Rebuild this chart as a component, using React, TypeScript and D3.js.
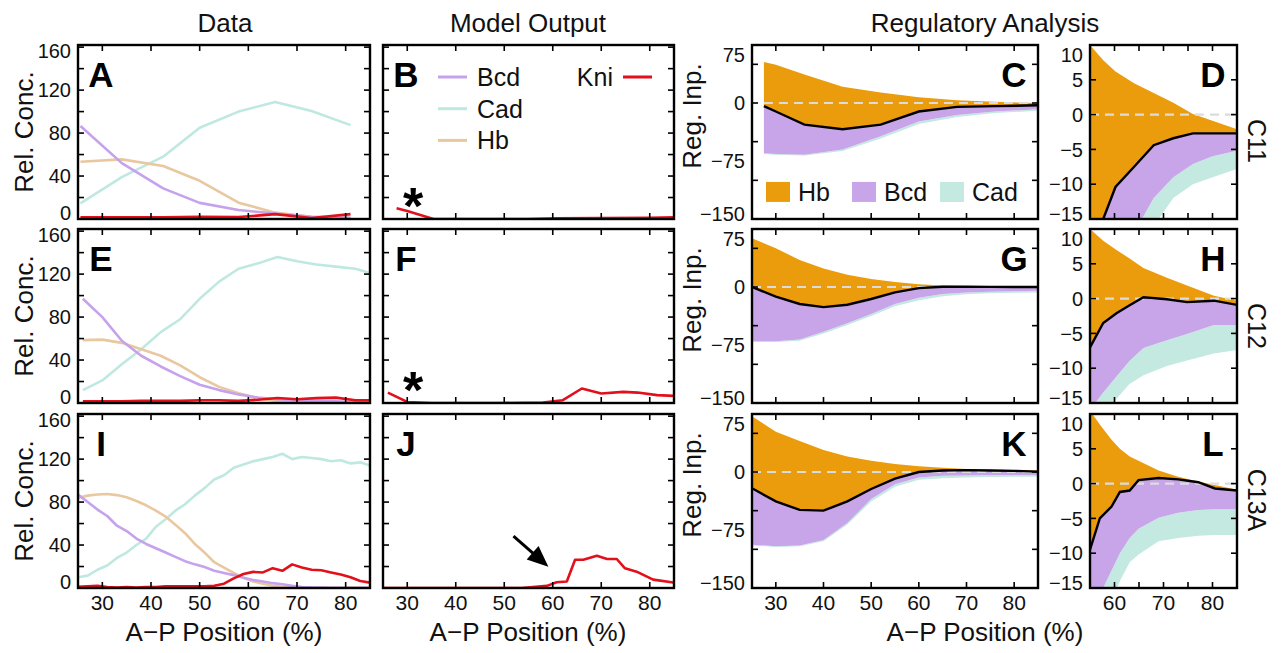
import * as d3 from "d3";
import React from "react";

const FONT = "'Liberation Sans', Arial, Helvetica, sans-serif";

const BCD_LINE = "#c6a2ec";
const CAD_LINE = "#bfe8e0";
const HB_LINE = "#e9c8a0";
const KNI_LINE = "#e2101a";
const HB_FILL = "#eb9c0c";
const BCD_FILL = "#c8a5e8";
const CAD_FILL = "#c3e9e1";

// ---------- Data (C11) ----------
const POS_A = [25.5, 34, 42.5, 50, 58, 65.5, 73, 81];
const BCD_A = [86.5, 52, 28.5, 15, 8.4, 5, 2, 1.2];
const CAD_A = [14.6, 39, 58, 85, 100, 109, 100.5, 87.4];
const HB_A = [53.3, 55.5, 49.3, 35.6, 15.2, 5.9, 2, 1];
const KNI_A = [1.5, 1.5, 1.5, 2, 1.8, 4.5, 1, 4.5];

// ---------- Data (C12) ----------
const POS_E = [26, 30, 34, 38, 42, 46, 50, 54, 58, 62, 66, 70, 74, 78, 82, 85];
const BCD_E = [97, 80, 58, 44, 34, 25, 17, 12, 8, 5, 3.5, 2.5, 2, 1.5, 1, 1];
const CAD_E = [12, 21, 36, 50, 66, 78, 97, 113, 125, 130, 136, 132, 129, 127, 125, 121];
const HB_E = [58.5, 59, 56, 50, 44, 35, 24, 15, 9, 4.5, 2, 1, 0.8, 0.5, 0.5, 0.5];
const KNI_E = [1.5, 1.5, 1.5, 2, 2, 2, 2.5, 2.5, 2, 3, 4.7, 3.5, 4.5, 5, 2.5, 2.5];

// ---------- Data (C13A) ----------
const POS_I = [25, 27, 29, 31, 33, 35, 37, 39, 41, 43, 45, 47, 49, 51, 53, 55, 57, 59, 61, 63, 65, 67, 69, 71, 73, 75, 77, 79, 81, 83, 85];
const BCD_I = [87, 80, 73, 67, 58, 53, 46, 41, 37, 33, 29, 25, 22, 19.5, 16, 14, 12, 9.5, 7.5, 6, 4.5, 3.5, 2, 1, 0.6, 0.4, 0.3, 0.2, 0.2, 0.1, 0.1];
const CAD_I = [10, 11.5, 17, 21, 28, 33, 40, 46, 57, 64, 72, 78, 86, 93, 101, 105, 112, 115, 118, 120, 122, 125, 120, 122, 121, 120, 118, 119, 116, 117, 114];
const HB_I = [84, 86, 87, 87.5, 86.5, 84.5, 81, 77, 72, 66.5, 59, 51, 41, 33, 24, 19, 14, 9.5, 6, 4, 2, 1.2, 0.8, 0.5, 0.4, 0.3, 0.3, 0.2, 0.2, 0.2, 0.2];
const KNI_I = [1, 1.5, 2, 1, 0.5, 1, 0.5, 1, 1, 1.5, 1.5, 1.5, 1.5, 1.5, 2, 4, 9, 13, 15, 14.5, 18.5, 16, 22, 19, 17, 16.5, 14.5, 12.5, 10, 6.5, 5];

// ---------- Model output (Kni) ----------
const POS_B = [27.8, 30, 35.4, 45, 55, 61, 70, 80, 85];
const KNI_B = [10, 7.5, 0, 0, 0, 0.6, 0.9, 1.2, 1.5];
const POS_F = [26, 30, 35, 50, 58, 62, 66, 70, 74.5, 77.5, 81.5, 85];
const KNI_F = [9.7, 1, 0, 0, 0.5, 2.5, 13.5, 8.8, 10.4, 9.7, 7.3, 6.6];
const POS_J = [25, 53.6, 58.8, 60.8, 62.9, 64.6, 66.3, 69.1, 71.2, 73.2, 74.9, 77.3, 80.7, 84.5, 85];
const KNI_J = [0, 0, 2, 5.3, 6, 26.3, 26.3, 30, 27, 27, 18.3, 15.2, 7.8, 5.3, 5];

// ---------- Regulatory analysis, full range ----------
const POS_C = [27.5, 30, 36, 44, 52, 60, 68, 76, 85];
const TOP_C = [53, 49.5, 37, 21, 13.5, 7.5, 3.5, 1.5, 0];
const NET_C = [-4, -11, -28, -34, -28, -11, -5, -4, -3];
const BCD_C = [-65, -66, -67, -60, -43, -24, -15.5, -11, -8];
const CAD_C = [-66, -67, -68, -62, -46, -27, -18, -13, -10];

const POS_G = [25, 30, 35, 40, 45, 50, 55, 60, 65, 70, 75, 80, 85];
const TOP_G = [63, 50, 35, 24, 16, 10.5, 6.5, 3.5, 2, 1.2, 0.8, 0.5, 0.3];
const NET_G = [0, -12.5, -22, -26, -23, -15.5, -7, -1.5, 0.3, 0.3, 0.2, 0, 0];
const BCD_G = [-70, -70, -68, -58, -47, -35, -22, -14, -9, -7, -6, -5.5, -5];
const CAD_G = [-71, -71, -69.5, -60, -49, -37.5, -25, -17, -12, -9.5, -8, -7.5, -7];

const POS_K = [25, 30, 35, 40, 45, 50, 55, 60, 65, 70, 75, 80, 85];
const TOP_K = [72, 52, 40, 28.5, 20, 14.5, 10.5, 7.5, 5.5, 4, 3, 2.5, 2];
const NET_K = [-21, -38, -49, -50, -38, -22, -8.5, 0, 2, 2.4, 2, 1.5, 0.5];
const BCD_K = [-94, -96, -95, -88, -66, -35, -16, -7, -5, -4.5, -4, -4, -4];
const CAD_K = [-95, -97, -96, -89.5, -68, -38, -19, -10, -8, -7, -6.5, -6, -6];

// ---------- Regulatory analysis, posterior zoom ----------
const POS_D = [55, 57.7, 60.2, 64, 68, 72, 76, 80, 85];
const TOP_D = [10, 7.8, 6.2, 4.5, 3.1, 1.7, 0.1, -0.9, -2.1];
const NET_D = [-20, -15, -10.4, -7.5, -4.4, -3.4, -2.7, -2.7, -2.7];
const BCD_D = [-25, -22, -20, -17, -12, -9, -7.1, -6, -5.2];
const CAD_D = [-30, -27, -25, -21, -16, -12, -10, -9, -7.8];

const POS_H = [55, 57.7, 60.4, 63, 65.9, 70.7, 74.8, 80.3, 85];
const TOP_H = [10, 8.3, 7, 5.8, 4.4, 3, 1.9, 0.4, -0.3];
const NET_H = [-7, -3.5, -2.1, -1, 0.2, -0.1, -0.5, -0.3, -0.9];
const BCD_H = [-16, -13.5, -11.2, -9, -7.1, -6, -5.1, -3.8, -3.8];
const CAD_H = [-22, -18, -14.4, -12.3, -11, -9.7, -8.9, -7.9, -7.4];

const POS_L = [55, 57, 59.4, 61.1, 63.1, 64.9, 69, 73, 77.1, 80.5, 85];
const TOP_L = [10.5, 8.5, 6.3, 5, 3.9, 3.3, 1.9, 1, 0.3, -0.2, -0.9];
const NET_L = [-9.5, -5, -3.3, -1.2, -1, 0.5, 0.8, 0.6, 0.2, -0.7, -1];
const BCD_L = [-20, -16, -12.5, -10, -7.8, -6.5, -4.9, -4.2, -3.8, -3.7, -3.7];
const CAD_L = [-25, -21, -17, -14, -11.3, -10.2, -8.3, -7.8, -7.5, -7.4, -7.4];

// ticks / labels
const CONC_X_TICKS = [30, 40, 50, 60, 70, 80];
const CONC_Y_TICKS = [20, 40, 60, 80, 100, 120, 140, 160];
const CONC_Y_LABELS = [0, 40, 80, 120, 160];
const REG_Y_TICKS = [-100, -50, 0, 50];
const REG_Y_LABELS = [75, 0, -75, -150];
const ZOOM_X_TICKS = [60, 65, 70, 75, 80];
const ZOOM_X_LABELS = [60, 70, 80];
const ZOOM_Y_TICKS = [-10, -5, 0, 5];
const ZOOM_Y_LABELS = [10, 5, 0, -5, -10, -15];
const ROW_NAMES = ["C11", "C12", "C13A"];

// layout
const COLS = [
  { x: 78, w: 292 },
  { x: 383, w: 291 },
  { x: 752, w: 286 },
  { x: 1090, w: 147 },
];
const ROW_TOP = [45, 229, 414];
const ROW_H = 174;

const fmt = (v: number) => (v < 0 ? "\u2212" + Math.abs(v) : String(v));

type Scale = d3.ScaleLinear<number, number>;

function Frame({ xs, ys, xTicks, yTicks }: { xs: Scale; ys: Scale; xTicks: number[]; yTicks: number[] }) {
  const [x0, x1] = xs.range();
  const [yb, yt] = ys.range();
  const len = 6;
  return (
    <g>
      <g stroke="#000" strokeWidth={1.6}>
        {xTicks.map((t) => (
          <g key={"x" + t}>
            <line x1={xs(t)} x2={xs(t)} y1={yb} y2={yb - len} />
            <line x1={xs(t)} x2={xs(t)} y1={yt} y2={yt + len} />
          </g>
        ))}
        {yTicks.map((t) => (
          <g key={"y" + t}>
            <line x1={x0} x2={x0 + len} y1={ys(t)} y2={ys(t)} />
            <line x1={x1} x2={x1 - len} y1={ys(t)} y2={ys(t)} />
          </g>
        ))}
      </g>
      <rect x={x0} y={yt} width={x1 - x0} height={yb - yt} fill="none" stroke="#000" strokeWidth={2.4} />
    </g>
  );
}

function YLabels({ xs, ys, labels, topPad, botPad }: { xs: Scale; ys: Scale; labels: number[]; topPad: number; botPad: number }) {
  const [yb, yt] = ys.range();
  const x0 = xs.range()[0];
  return (
    <g fontFamily={FONT} fontSize={20} textAnchor="end" fill="#111">
      {labels.map((v) => (
        <text key={v} x={x0 - 7} y={Math.min(Math.max(ys(v), yt + topPad), yb - botPad)} dy="0.36em">
          {fmt(v)}
        </text>
      ))}
    </g>
  );
}

function XLabels({ xs, ys, labels }: { xs: Scale; ys: Scale; labels: number[] }) {
  const yb = ys.range()[0];
  return (
    <g fontFamily={FONT} fontSize={21} textAnchor="middle" fill="#111">
      {labels.map((v) => (
        <text key={v} x={xs(v)} y={yb + 22}>
          {v}
        </text>
      ))}
    </g>
  );
}

function Letter({ xs, ys, text, right }: { xs: Scale; ys: Scale; text: string; right?: boolean }) {
  const [x0, x1] = xs.range();
  const yt = ys.range()[1];
  return (
    <text
      x={right ? x1 - 24 : x0 + 23}
      y={yt + 42}
      textAnchor="middle"
      fontFamily={FONT}
      fontWeight="bold"
      fontSize={35}
      fill="#000"
    >
      {text}
    </text>
  );
}

function line(xs: Scale, ys: Scale, pos: number[], vals: number[]) {
  return d3
    .line<number>()
    .x((_, i) => xs(pos[i]))
    .y((d) => ys(d))(vals) as string;
}

function band(xs: Scale, ys: Scale, pos: number[], lo: number[], hi: number[]) {
  return d3
    .area<number>()
    .x((_, i) => xs(pos[i]))
    .y0((_, i) => ys(lo[i]))
    .y1((_, i) => ys(hi[i]))(pos) as string;
}

type ConcRow = { pos: number[]; bcd: number[]; cad: number[]; hb: number[]; kni: number[] };
const DATA_ROWS: ConcRow[] = [
  { pos: POS_A, bcd: BCD_A, cad: CAD_A, hb: HB_A, kni: KNI_A },
  { pos: POS_E, bcd: BCD_E, cad: CAD_E, hb: HB_E, kni: KNI_E },
  { pos: POS_I, bcd: BCD_I, cad: CAD_I, hb: HB_I, kni: KNI_I },
];
const MODEL_ROWS = [
  { pos: POS_B, kni: KNI_B },
  { pos: POS_F, kni: KNI_F },
  { pos: POS_J, kni: KNI_J },
];
type RegRow = { pos: number[]; top: number[]; net: number[]; bcd: number[]; cad: number[] };
const REG_ROWS: RegRow[] = [
  { pos: POS_C, top: TOP_C, net: NET_C, bcd: BCD_C, cad: CAD_C },
  { pos: POS_G, top: TOP_G, net: NET_G, bcd: BCD_G, cad: CAD_G },
  { pos: POS_K, top: TOP_K, net: NET_K, bcd: BCD_K, cad: CAD_K },
];
const ZOOM_ROWS: RegRow[] = [
  { pos: POS_D, top: TOP_D, net: NET_D, bcd: BCD_D, cad: CAD_D },
  { pos: POS_H, top: TOP_H, net: NET_H, bcd: BCD_H, cad: CAD_H },
  { pos: POS_L, top: TOP_L, net: NET_L, bcd: BCD_L, cad: CAD_L },
];
const LETTERS = [
  ["A", "B", "C", "D"],
  ["E", "F", "G", "H"],
  ["I", "J", "K", "L"],
];

function RegFill({ xs, ys, d, id }: { xs: Scale; ys: Scale; d: RegRow; id: string }) {
  const [x0, x1] = xs.range();
  const [yb, yt] = ys.range();
  return (
    <g>
      <clipPath id={id}>
        <rect x={x0} y={yt} width={x1 - x0} height={yb - yt} />
      </clipPath>
      <g clipPath={`url(#${id})`}>
        <path d={band(xs, ys, d.pos, d.cad, d.bcd)} fill={CAD_FILL} />
        <path d={band(xs, ys, d.pos, d.bcd, d.net)} fill={BCD_FILL} />
        <path d={band(xs, ys, d.pos, d.net, d.top)} fill={HB_FILL} />
        <line
          x1={xs(d.pos[0])}
          x2={x1}
          y1={ys(0)}
          y2={ys(0)}
          stroke="#dcdcdc"
          strokeWidth={2.2}
          strokeDasharray="9,6"
        />
        <path d={line(xs, ys, d.pos, d.net)} fill="none" stroke="#000" strokeWidth={2.4} />
      </g>
    </g>
  );
}

export default function App() {
  return (
    <svg width={1282} height={653} style={{ display: "block", position: "absolute", left: 0, top: 0, background: "#fff" }}>
      <rect width={1282} height={653} fill="#fff" />
      <g fontFamily={FONT} fontSize={26} textAnchor="middle" fill="#111">
        <text x={225} y={32}>Data</text>
        <text x={528} y={32}>Model Output</text>
        <text x={985} y={32}>Regulatory Analysis</text>
        <text x={224} y={641}>A{"\u2212"}P Position (%)</text>
        <text x={528} y={641}>A{"\u2212"}P Position (%)</text>
        <text x={985} y={641}>A{"\u2212"}P Position (%)</text>
      </g>
      {ROW_TOP.map((top, r) => {
        const bottom = top + ROW_H;
        const mid = top + ROW_H / 2;
        const xs1 = d3.scaleLinear().domain([25, 85]).range([COLS[0].x, COLS[0].x + COLS[0].w]);
        const xs2 = d3.scaleLinear().domain([25, 85]).range([COLS[1].x, COLS[1].x + COLS[1].w]);
        const xs3 = d3.scaleLinear().domain([25, 85]).range([COLS[2].x, COLS[2].x + COLS[2].w]);
        const xs4 = d3.scaleLinear().domain([55, 85]).range([COLS[3].x, COLS[3].x + COLS[3].w]);
        const ysC = d3.scaleLinear().domain([0, 162]).range([bottom, top]);
        const ysR = d3.scaleLinear().domain([-150, 75]).range([bottom, top]);
        const ysZ = d3.scaleLinear().domain([-15, 10]).range([bottom, top]);
        const dr = DATA_ROWS[r];
        const mr = MODEL_ROWS[r];
        const last = r === ROW_TOP.length - 1;
        return (
          <g key={r}>
            {/* Data column */}
            <clipPath id={"cd" + r}>
              <rect x={COLS[0].x} y={top} width={COLS[0].w} height={ROW_H} />
            </clipPath>
            <g clipPath={`url(#cd${r})`} fill="none" strokeWidth={2.6} strokeLinejoin="round">
              <path d={line(xs1, ysC, dr.pos, dr.cad)} stroke={CAD_LINE} />
              <path d={line(xs1, ysC, dr.pos, dr.hb)} stroke={HB_LINE} />
              <path d={line(xs1, ysC, dr.pos, dr.bcd)} stroke={BCD_LINE} />
              <path d={line(xs1, ysC, dr.pos, dr.kni)} stroke={KNI_LINE} />
            </g>
            <Frame xs={xs1} ys={ysC} xTicks={CONC_X_TICKS} yTicks={CONC_Y_TICKS} />
            <YLabels xs={xs1} ys={ysC} labels={CONC_Y_LABELS} topPad={6} botPad={6} />
            <text
              transform={`translate(33,${mid}) rotate(-90)`}
              textAnchor="middle"
              fontFamily={FONT}
              fontSize={26}
              fill="#111"
            >
              Rel. Conc.
            </text>
            <Letter xs={xs1} ys={ysC} text={LETTERS[r][0]} />

            {/* Model output column */}
            <clipPath id={"cm" + r}>
              <rect x={COLS[1].x} y={top} width={COLS[1].w} height={ROW_H} />
            </clipPath>
            <g clipPath={`url(#cm${r})`} fill="none" strokeWidth={2.6} strokeLinejoin="round">
              <path d={line(xs2, ysC, mr.pos, mr.kni)} stroke={KNI_LINE} />
            </g>
            <Frame xs={xs2} ys={ysC} xTicks={CONC_X_TICKS} yTicks={CONC_Y_TICKS} />
            <Letter xs={xs2} ys={ysC} text={LETTERS[r][1]} />
            {r < 2 && (
              <text
                x={xs2(31.2)}
                y={ysC(24)}
                dy="0.6em"
                textAnchor="middle"
                fontFamily={FONT}
                fontWeight="bold"
                fontSize={52}
                fill="#000"
              >
                *
              </text>
            )}

            {/* Regulatory column */}
            <RegFill xs={xs3} ys={ysR} d={REG_ROWS[r]} id={"cr" + r} />
            <Frame xs={xs3} ys={ysR} xTicks={CONC_X_TICKS} yTicks={REG_Y_TICKS} />
            <YLabels xs={xs3} ys={ysR} labels={REG_Y_LABELS} topPad={10} botPad={5} />
            <text
              transform={`translate(701,${mid - 16}) rotate(-90)`}
              textAnchor="middle"
              fontFamily={FONT}
              fontSize={26}
              fill="#111"
            >
              Reg. Inp.
            </text>
            <Letter xs={xs3} ys={ysR} text={LETTERS[r][2]} right />

            {/* Zoom column */}
            <RegFill xs={xs4} ys={ysZ} d={ZOOM_ROWS[r]} id={"cz" + r} />
            <Frame xs={xs4} ys={ysZ} xTicks={ZOOM_X_TICKS} yTicks={ZOOM_Y_TICKS} />
            <YLabels xs={xs4} ys={ysZ} labels={ZOOM_Y_LABELS} topPad={10} botPad={5} />
            <Letter xs={xs4} ys={ysZ} text={LETTERS[r][3]} right />
            <text
              transform={`translate(1248,${top + [96, 97, 86][r]}) rotate(90)`}
              textAnchor="middle"
              fontFamily={FONT}
              fontSize={25}
              fill="#111"
            >
              {ROW_NAMES[r]}
            </text>

            {last && (
              <g>
                <XLabels xs={xs1} ys={ysC} labels={CONC_X_TICKS} />
                <XLabels xs={xs2} ys={ysC} labels={CONC_X_TICKS} />
                <XLabels xs={xs3} ys={ysR} labels={CONC_X_TICKS} />
                <XLabels xs={xs4} ys={ysZ} labels={ZOOM_X_LABELS} />
                <Arrow from={[xs2(51.9), ysC(48.4)]} to={[xs2(59.1), ysC(19.8)]} />
              </g>
            )}
            {r === 0 && <Legends xs2={xs2} ysC={ysC} ysR={ysR} />}
          </g>
        );
      })}
    </svg>
  );
}

function Arrow({ from, to }: { from: [number, number]; to: [number, number] }) {
  const dx = to[0] - from[0];
  const dy = to[1] - from[1];
  const L = Math.hypot(dx, dy);
  const ux = dx / L;
  const uy = dy / L;
  const head = 21;
  const hw = 9;
  const bx = to[0] - ux * head;
  const by = to[1] - uy * head;
  const pts = [
    [to[0], to[1]],
    [bx - uy * hw, by + ux * hw],
    [bx + uy * hw, by - ux * hw],
  ];
  return (
    <g>
      <line x1={from[0]} y1={from[1]} x2={bx + ux * 3} y2={by + uy * 3} stroke="#000" strokeWidth={3} />
      <polygon points={pts.map((p) => p.join(",")).join(" ")} fill="#000" />
    </g>
  );
}

function Legends({ xs2, ysC, ysR }: { xs2: Scale; ysC: Scale; ysR: Scale }) {
  const lineItems = [
    { name: "Bcd", color: BCD_LINE },
    { name: "Cad", color: CAD_LINE },
    { name: "Hb", color: HB_LINE },
  ];
  const x0 = xs2.range()[0];
  const yt = ysC.range()[1];
  const fillItems = [
    { name: "Hb", color: HB_FILL, x: 766 },
    { name: "Bcd", color: BCD_FILL, x: 852 },
    { name: "Cad", color: CAD_FILL, x: 940 },
  ];
  const ly = ysR(-115);
  return (
    <g fontFamily={FONT} fontSize={25} fill="#111">
      {lineItems.map((it, i) => (
        <g key={it.name}>
          <line x1={x0 + 55} x2={x0 + 84} y1={yt + 32 + i * 31.7} y2={yt + 32 + i * 31.7} stroke={it.color} strokeWidth={3} />
          <text x={x0 + 94} y={yt + 32 + i * 31.7} dy="0.36em">
            {it.name}
          </text>
        </g>
      ))}
      <text x={x0 + 230} y={yt + 32} dy="0.36em" textAnchor="end">
        Kni
      </text>
      <line x1={x0 + 240} x2={x0 + 269} y1={yt + 32} y2={yt + 32} stroke={KNI_LINE} strokeWidth={3} />
      {fillItems.map((it) => (
        <g key={it.name}>
          <rect x={it.x} y={ly - 10} width={24} height={20} fill={it.color} />
          <text x={it.x + 32} y={ly} dy="0.36em">
            {it.name}
          </text>
        </g>
      ))}
    </g>
  );
}
